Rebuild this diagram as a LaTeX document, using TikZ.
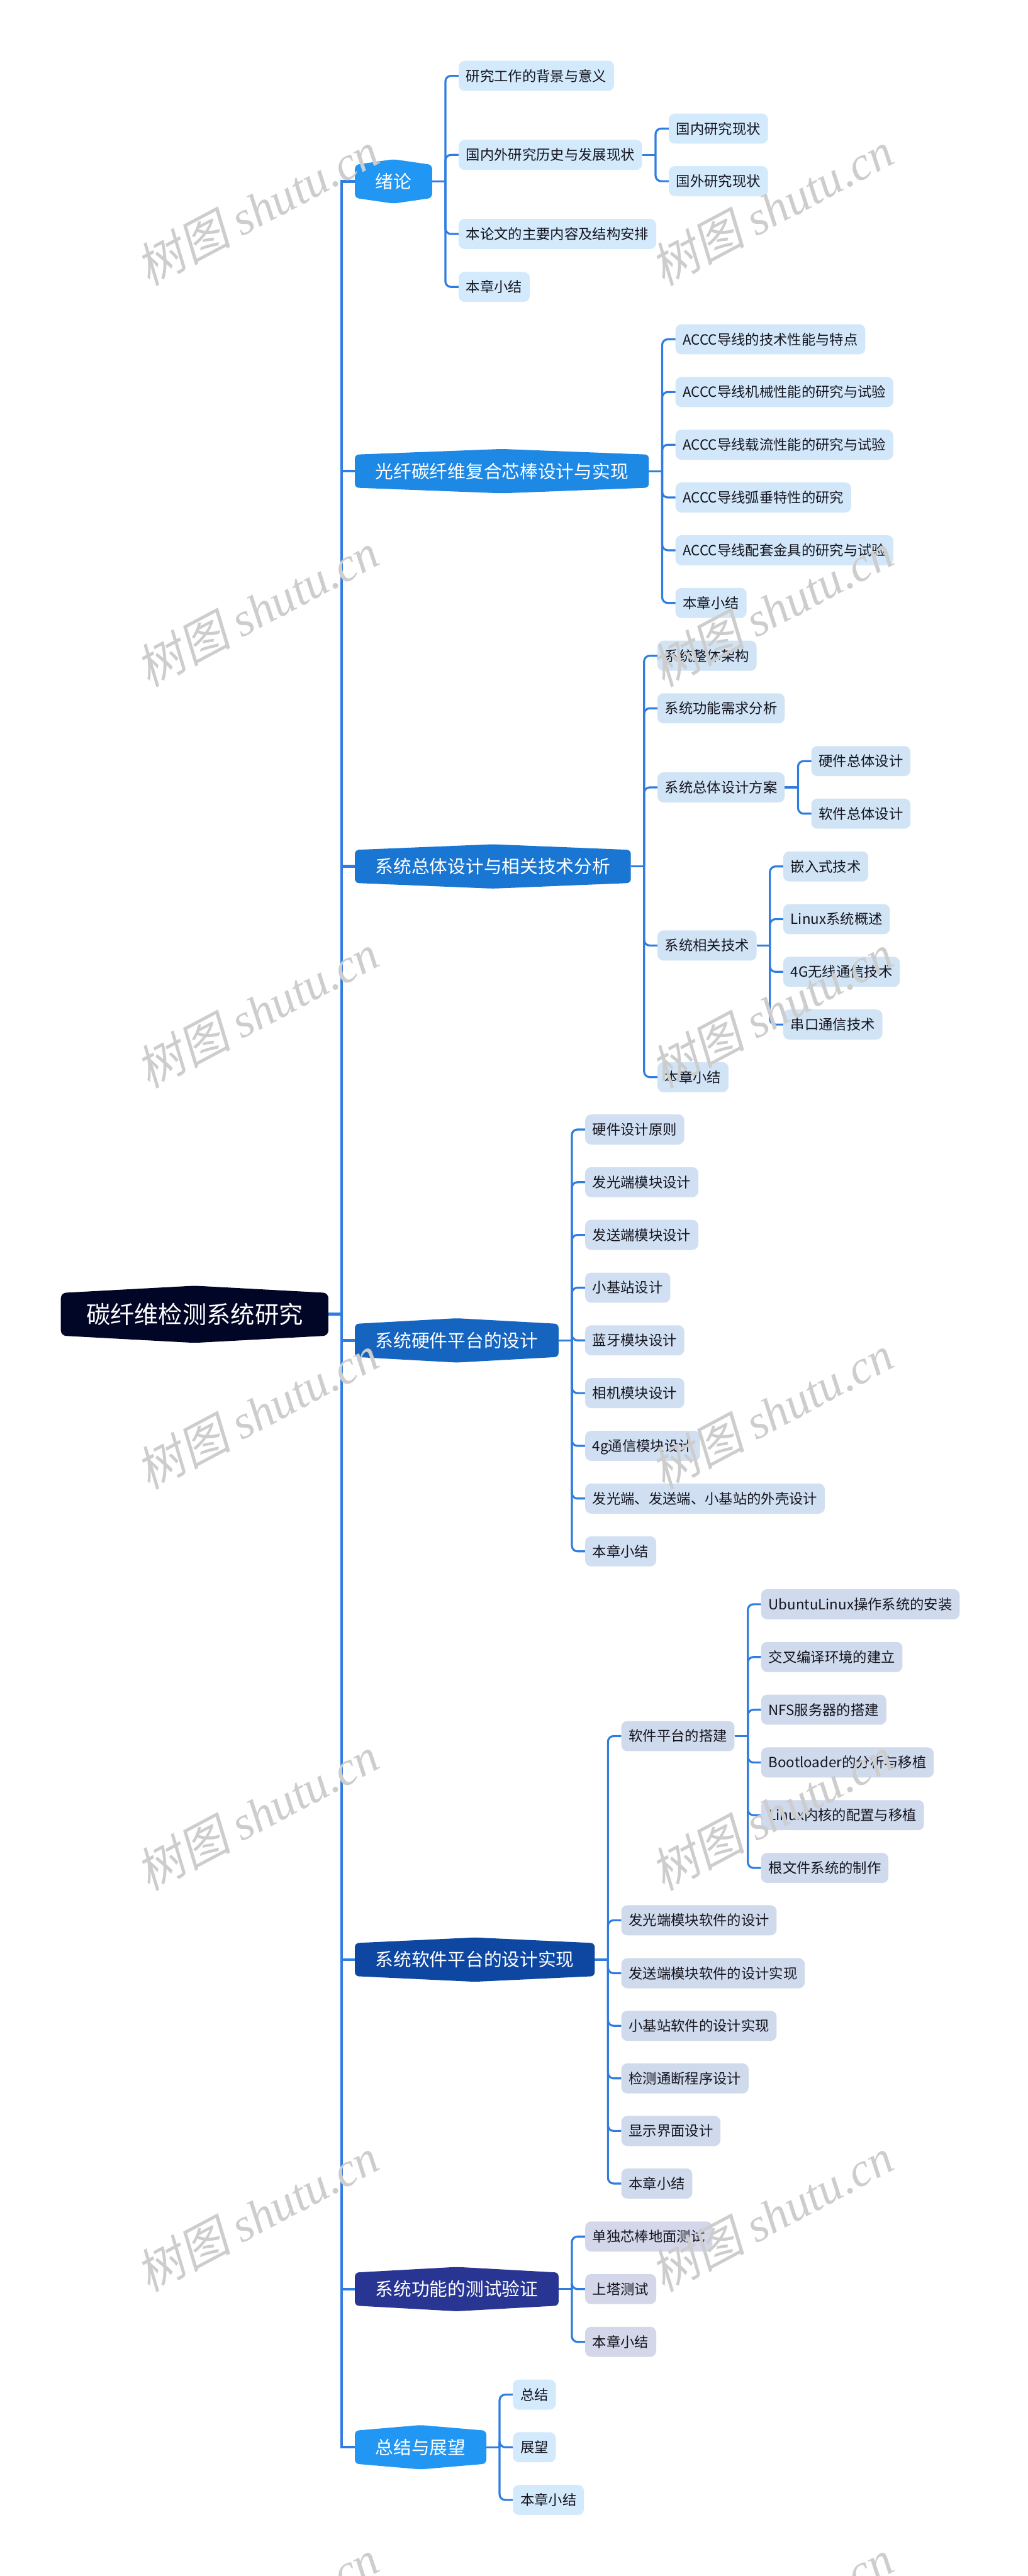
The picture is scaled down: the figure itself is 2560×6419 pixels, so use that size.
\documentclass[tikz,border=0pt]{standalone}
\usepackage{fontspec}
\setmainfont{Noto Sans CJK SC}
\newfontfamily\wmcjk[FakeSlant=0.2]{Noto Sans CJK SC}
\newfontfamily\wmserif{Liberation Serif}
\usetikzlibrary{backgrounds,calc}

\definecolor{lc}{RGB}{47,125,225}
\definecolor{cA}{RGB}{33,150,243}
\definecolor{cB}{RGB}{30,136,229}
\definecolor{cC}{RGB}{25,118,210}
\definecolor{cD}{RGB}{21,101,192}
\definecolor{cE}{RGB}{13,71,161}
\definecolor{cF}{RGB}{40,53,147}
\definecolor{cR}{RGB}{2,6,38}
\definecolor{tx}{RGB}{20,20,30}
\definecolor{wm}{RGB}{205,205,205}

\newcommand{\hexbg}[3]{\fill[#2,rounded corners=10pt] (#1.west) -- (#1.north west) -- ([yshift=#3]#1.north) -- (#1.north east) -- (#1.south east) -- ([yshift=-#3]#1.south) -- (#1.south west) -- cycle;}
\newcommand{\linkto}[2]{\draw[lk] (#1.east) -- ++(33,0); \draw[lk, rounded corners=14pt] ([xshift=33pt]#1.east) |- (#2.west);}

\tikzset{
  rootbox/.style={inner xsep=63pt, inner ysep=0pt, minimum height=106pt, text=white,
    font=\fontsize{60}{72}\selectfont, text height=52.8pt, text depth=7.2pt},
  l1/.style={inner xsep=51pt, inner ysep=0pt, minimum height=82pt, text=white,
    font=\fontsize{45}{54}\selectfont, text height=39.6pt, text depth=5.4pt},
  l2/.style={rounded corners=15pt, inner xsep=18.5pt, inner ysep=0pt, minimum height=75pt, text=tx,
    font=\fontsize{35}{42}\selectfont, text height=30.8pt, text depth=4.2pt},
  kA/.style={l2, fill=cA!20},
  kB/.style={l2, fill=cB!20},
  kC/.style={l2, fill=cC!20},
  kD/.style={l2, fill=cD!20},
  kE/.style={l2, fill=cE!20},
  kF/.style={l2, fill=cF!20},
  trunk/.style={draw=lc, line width=7pt},
  lk/.style={draw=lc, line width=5pt},
  wmk/.style={rotate=28, text=wm, inner sep=0pt, font=\fontsize{118}{118}\selectfont},
}

\begin{document}
\begin{tikzpicture}[x=1pt,y=-1pt]
\useasboundingbox (0,0) rectangle (2560,6419);

% root
\node[rootbox, anchor=east] (root) at (818,3275) {碳纤维检测系统研究};

% level 1
\node[l1,anchor=west] (A) at (884,452) {绪论};
\node[l1,anchor=west] (B) at (884,1174) {光纤碳纤维复合芯棒设计与实现};
\node[l1,anchor=west] (C) at (884,2159) {系统总体设计与相关技术分析};
\node[l1,anchor=west] (D) at (884,3340) {系统硬件平台的设计};
\node[l1,anchor=west] (E) at (884,4883) {系统软件平台的设计实现};
\node[l1,anchor=west] (F) at (884,5704) {系统功能的测试验证};
\node[l1,anchor=west] (G) at (884,6098) {总结与展望};

% A
\node[kA,anchor=west] (A1) at ([xshift=66pt,yshift=263pt]A.east) {研究工作的背景与意义};
\node[kA,anchor=west] (A2) at ([xshift=66pt,yshift=66pt]A.east) {国内外研究历史与发展现状};
\node[kA,anchor=west] (A21) at ([xshift=66pt,yshift=65.5pt]A2.east) {国内研究现状};
\node[kA,anchor=west] (A22) at ([xshift=66pt,yshift=-65.5pt]A2.east) {国外研究现状};
\node[kA,anchor=west] (A3) at ([xshift=66pt,yshift=-131pt]A.east) {本论文的主要内容及结构安排};
\node[kA,anchor=west] (A4) at ([xshift=66pt,yshift=-263pt]A.east) {本章小结};

% B
\node[kB,anchor=west] (B1) at ([xshift=66pt,yshift=328.5pt]B.east) {ACCC导线的技术性能与特点};
\node[kB,anchor=west] (B2) at ([xshift=66pt,yshift=197.1pt]B.east) {ACCC导线机械性能的研究与试验};
\node[kB,anchor=west] (B3) at ([xshift=66pt,yshift=65.7pt]B.east) {ACCC导线载流性能的研究与试验};
\node[kB,anchor=west] (B4) at ([xshift=66pt,yshift=-65.7pt]B.east) {ACCC导线弧垂特性的研究};
\node[kB,anchor=west] (B5) at ([xshift=66pt,yshift=-197.1pt]B.east) {ACCC导线配套金具的研究与试验};
\node[kB,anchor=west] (B6) at ([xshift=66pt,yshift=-328.5pt]B.east) {本章小结};

% C
\node[kC,anchor=west] (C1) at ([xshift=66pt,yshift=525pt]C.east) {系统整体架构};
\node[kC,anchor=west] (C2) at ([xshift=66pt,yshift=394pt]C.east) {系统功能需求分析};
\node[kC,anchor=west] (C3) at ([xshift=66pt,yshift=197pt]C.east) {系统总体设计方案};
\node[kC,anchor=west] (C31) at ([xshift=66pt,yshift=65.5pt]C3.east) {硬件总体设计};
\node[kC,anchor=west] (C32) at ([xshift=66pt,yshift=-65.5pt]C3.east) {软件总体设计};
\node[kC,anchor=west] (C4) at ([xshift=66pt,yshift=-197pt]C.east) {系统相关技术};
\node[kC,anchor=west] (C41) at ([xshift=66pt,yshift=197pt]C4.east) {嵌入式技术};
\node[kC,anchor=west] (C42) at ([xshift=66pt,yshift=65.7pt]C4.east) {Linux系统概述};
\node[kC,anchor=west] (C43) at ([xshift=66pt,yshift=-65.7pt]C4.east) {4G无线通信技术};
\node[kC,anchor=west] (C44) at ([xshift=66pt,yshift=-197pt]C4.east) {串口通信技术};
\node[kC,anchor=west] (C5) at ([xshift=66pt,yshift=-525pt]C.east) {本章小结};

% D
\node[kD,anchor=west] (D1) at ([xshift=66pt,yshift=525.6pt]D.east) {硬件设计原则};
\node[kD,anchor=west] (D2) at ([xshift=66pt,yshift=394.2pt]D.east) {发光端模块设计};
\node[kD,anchor=west] (D3) at ([xshift=66pt,yshift=262.8pt]D.east) {发送端模块设计};
\node[kD,anchor=west] (D4) at ([xshift=66pt,yshift=131.4pt]D.east) {小基站设计};
\node[kD,anchor=west] (D5) at ([xshift=66pt]D.east) {蓝牙模块设计};
\node[kD,anchor=west] (D6) at ([xshift=66pt,yshift=-131.4pt]D.east) {相机模块设计};
\node[kD,anchor=west] (D7) at ([xshift=66pt,yshift=-262.8pt]D.east) {4g通信模块设计};
\node[kD,anchor=west] (D8) at ([xshift=66pt,yshift=-394.2pt]D.east) {发光端、发送端、小基站的外壳设计};
\node[kD,anchor=west] (D9) at ([xshift=66pt,yshift=-525.6pt]D.east) {本章小结};

% E
\node[kE,anchor=west] (E1) at ([xshift=66pt,yshift=557pt]E.east) {软件平台的搭建};
\node[kE,anchor=west] (E11) at ([xshift=66pt,yshift=328.5pt]E1.east) {UbuntuLinux操作系统的安装};
\node[kE,anchor=west] (E12) at ([xshift=66pt,yshift=197.1pt]E1.east) {交叉编译环境的建立};
\node[kE,anchor=west] (E13) at ([xshift=66pt,yshift=65.7pt]E1.east) {NFS服务器的搭建};
\node[kE,anchor=west] (E14) at ([xshift=66pt,yshift=-65.7pt]E1.east) {Bootloader的分析与移植};
\node[kE,anchor=west] (E15) at ([xshift=66pt,yshift=-197.1pt]E1.east) {Linux内核的配置与移植};
\node[kE,anchor=west] (E16) at ([xshift=66pt,yshift=-328.5pt]E1.east) {根文件系统的制作};
\node[kE,anchor=west] (E2) at ([xshift=66pt,yshift=98pt]E.east) {发光端模块软件的设计};
\node[kE,anchor=west] (E3) at ([xshift=66pt,yshift=-34pt]E.east) {发送端模块软件的设计实现};
\node[kE,anchor=west] (E4) at ([xshift=66pt,yshift=-165pt]E.east) {小基站软件的设计实现};
\node[kE,anchor=west] (E5) at ([xshift=66pt,yshift=-296pt]E.east) {检测通断程序设计};
\node[kE,anchor=west] (E6) at ([xshift=66pt,yshift=-427pt]E.east) {显示界面设计};
\node[kE,anchor=west] (E7) at ([xshift=66pt,yshift=-558pt]E.east) {本章小结};

% F
\node[kF,anchor=west] (F1) at ([xshift=66pt,yshift=131pt]F.east) {单独芯棒地面测试};
\node[kF,anchor=west] (F2) at ([xshift=66pt]F.east) {上塔测试};
\node[kF,anchor=west] (F3) at ([xshift=66pt,yshift=-131.5pt]F.east) {本章小结};

% G
\node[kA,anchor=west] (G1) at ([xshift=66pt,yshift=131pt]G.east) {总结};
\node[kA,anchor=west] (G2) at ([xshift=66pt]G.east) {展望};
\node[kA,anchor=west] (G3) at ([xshift=66pt,yshift=-131.5pt]G.east) {本章小结};

% backgrounds of hexagonal nodes
\begin{scope}[on background layer]
  \fill[white] (0,0) rectangle (2560,6419);
  \fill[cR,rounded corners=13pt] (root.west) -- (root.north west) -- ([yshift=18pt]root.north) -- (root.north east) -- (root.south east) -- ([yshift=-18pt]root.south) -- (root.south west) -- cycle;
  \hexbg{A}{cA}{14pt}
  \hexbg{B}{cB}{14pt}
  \hexbg{C}{cC}{14pt}
  \hexbg{D}{cD}{14pt}
  \hexbg{E}{cE}{14pt}
  \hexbg{F}{cF}{14pt}
  \hexbg{G}{cA}{14pt}
\end{scope}

% trunk
\draw[trunk, line width=8pt] (root.east) -- ++(33,0);
\foreach \c in {A,B,C,D,E,F,G} {\draw[trunk] ([xshift=33pt]root.east) |- (\c.west);}

% branches
\foreach \c in {A1,A2,A3,A4} {\linkto{A}{\c}}
\foreach \c in {A21,A22} {\linkto{A2}{\c}}
\foreach \c in {B1,B2,B3,B4,B5,B6} {\linkto{B}{\c}}
\foreach \c in {C1,C2,C3,C4,C5} {\linkto{C}{\c}}
\foreach \c in {C31,C32} {\linkto{C3}{\c}}
\foreach \c in {C41,C42,C43,C44} {\linkto{C4}{\c}}
\foreach \c in {D1,D2,D3,D4,D5,D6,D7,D8,D9} {\linkto{D}{\c}}
\foreach \c in {E1,E2,E3,E4,E5,E6,E7} {\linkto{E}{\c}}
\foreach \c in {E11,E12,E13,E14,E15,E16} {\linkto{E1}{\c}}
\foreach \c in {F1,F2,F3} {\linkto{F}{\c}}
\foreach \c in {G1,G2,G3} {\linkto{G}{\c}}

% watermarks
\foreach \k in {0,...,6} {
  \node[wmk] (wl\k) at (641,{519+1000*\k}) {{\wmcjk 树图} {\wmserif\itshape shutu.cn}};
  \node[wmk] (wr\k) at (1922,{519+1000*\k}) {{\wmcjk 树图} {\wmserif\itshape shutu.cn}};
}
\end{tikzpicture}
\end{document}
